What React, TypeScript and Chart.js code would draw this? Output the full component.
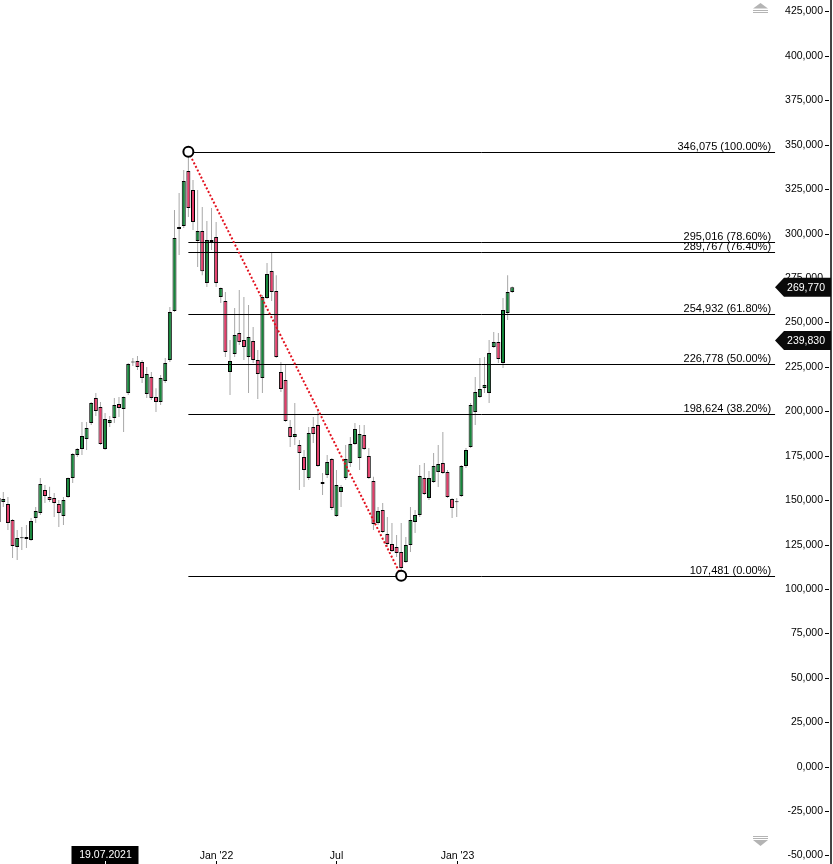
import React, { useEffect, useRef } from "react";
import { Chart, registerables } from "chart.js";

Chart.register(...registerables);

// Weekly candles, first week starting Monday 08.02.2021
const firstWeekUTC = Date.UTC(2021, 1, 8);

const opens = [
  137700, 148900, 147800, 138800, 123600, 128500, 128100, 127600, 139900, 142800,
  155700, 151800, 151200, 147800, 141100, 151800, 162500, 175400, 178800, 184400,
  193400, 207500, 202400, 178800, 193400, 196200, 204100, 201300, 210300, 227400,
  228300, 227700, 209700, 219300, 208000, 205200, 217000, 228900, 256400, 302600,
  304300, 335200, 324500, 295800, 301400, 272200, 295300, 298100, 264300, 262100,
  222100, 232200, 244100, 240100, 230600, 239600, 228900, 218700, 263800, 279000,
  267700, 222100, 217600, 191200, 185500, 181000, 174300, 162500, 191200, 192300,
  159100, 164100, 173100, 141100, 154600, 162500, 170900, 181600, 173700, 186700,
  174800, 160800, 137100, 144400, 130900, 125300, 123600, 120800, 115200, 124700,
  137700, 141600, 162500, 151200, 160200, 165800, 170900, 165800, 150600, 148800,
  152300, 169200, 179900, 199600, 208000, 213100, 210300, 236200, 239000, 227200,
  255300, 267200,
];
const highs = [
  154000, 154600, 151800, 139400, 133200, 134900, 136000, 139900, 146100, 162500,
  158500, 157600, 154000, 150100, 151800, 162700, 176500, 179300, 194000, 194000,
  205200, 210300, 205200, 199000, 197300, 207500, 208000, 208300, 227200, 230000,
  231100, 228900, 224900, 222100, 213000, 220400, 230000, 258700, 313300, 322900,
  335800, 346075, 330200, 324500, 315000, 307100, 314400, 306500, 269600, 267100,
  240100, 258100, 268300, 264300, 259800, 247400, 234500, 265400, 283500, 289600,
  276600, 227700, 226600, 195100, 204700, 183800, 178200, 191200, 196800, 200700,
  165300, 175400, 173700, 167000, 158500, 181000, 185500, 193400, 192300, 192300,
  179300, 163100, 146100, 148400, 140500, 137100, 130400, 137100, 129200, 146100,
  144400, 169800, 170900, 166400, 176500, 181000, 188300, 167000, 151200, 151200,
  169800, 179300, 204700, 219300, 230000, 230600, 240100, 244600, 244100, 263800,
  276600, 270300,
];
const lows = [
  136000, 146100, 133200, 117400, 116300, 121900, 123100, 127000, 137100, 141600,
  148400, 148900, 140500, 134900, 136000, 151200, 159600, 174300, 175400, 178200,
  192300, 197300, 181000, 178200, 191200, 193400, 196800, 188300, 209200, 225500,
  223200, 215900, 207500, 206400, 199600, 203500, 215900, 227700, 255900, 288000,
  303200, 309300, 302000, 281200, 276600, 270000, 290800, 270000, 260900, 230600,
  209200, 230600, 237300, 228900, 210300, 227200, 206900, 210300, 263200, 262100,
  230000, 210900, 194000, 179900, 181000, 155700, 157400, 161300, 182200, 168600,
  152900, 162500, 144400, 140500, 146100, 161300, 168600, 181000, 167000, 178200,
  161900, 133200, 136000, 131500, 123600, 120800, 118000, 107481, 114600, 120800,
  131500, 140500, 152900, 150100, 159600, 157400, 164700, 151200, 139900, 140500,
  151800, 168100, 179300, 192300, 207500, 210300, 204700, 235600, 227200, 224400,
  251400, 266600,
];
const closes = [
  151200, 150600, 137100, 124200, 128700, 128700, 129200, 138300, 143900, 159100,
  152300, 150100, 148400, 142800, 150100, 162500, 176000, 178800, 186100, 190600,
  204700, 200200, 181600, 195700, 195100, 203500, 201900, 208000, 226600, 227700,
  224900, 218700, 221000, 207500, 205200, 218700, 227200, 255900, 297500, 303700,
  329600, 314400, 306500, 301400, 278800, 296400, 296400, 272200, 269400, 233400,
  228300, 242900, 239000, 236200, 241800, 228900, 221000, 264300, 277300, 267100,
  230600, 212500, 194500, 185500, 187200, 176500, 167000, 187800, 187200, 169200,
  160200, 171500, 145600, 158500, 157400, 173100, 181600, 190000, 187200, 178800,
  162500, 136600, 143900, 132100, 125300, 121400, 120200, 111800, 124700, 138800,
  141600, 163600, 153500, 162500, 169200, 170300, 165300, 151800, 145600, 149000,
  169200, 178200, 203500, 210900, 212500, 214800, 232800, 239000, 229400, 257000,
  267100, 269770,
];

// Fibonacci retracement
const fibHighIndex = 41;
const fibLowIndex = 87;
const fibEndIndex = 167.8;
const fibRatios = [1, 0.786, 0.764, 0.618, 0.5, 0.382, 0];
const fibValues = [346075, 295016, 289767, 254932, 226778, 198624, 107481];

// Axes
const yTicks = [
  425000, 400000, 375000, 350000, 325000, 300000, 275000, 250000, 225000, 200000,
  175000, 150000, 125000, 100000, 75000, 50000, 25000, 0, -25000, -50000,
];
const xTickIndex = [47, 73, 99];
const xTickText = ["Jan '22", "Jul", "Jan '23"];
const cursorIndex = 23;
const priceTags = [269770, 239830];

const xMin = 0.287;
const xMax = 179.89;
const yMin = -54784;
const yMax = 431472;

const GREEN = "#15863a";
const RED = "#e63c6a";
const FONT = "'Liberation Sans', Arial, sans-serif";

const fmt = (v: number) => v.toLocaleString("en-US");
const fmtAxis = (v: number) => (v === 0 ? "0,000" : fmt(v));
const pad2 = (n: number) => (n < 10 ? "0" + n : "" + n);
const weekLabel = (i: number) => {
  const d = new Date(firstWeekUTC + i * 7 * 86400000);
  return `${pad2(d.getUTCDate())}.${pad2(d.getUTCMonth() + 1)}.${d.getUTCFullYear()}`;
};

const overlayPlugin = {
  id: "overlay",
  afterDatasetsDraw(chart: any) {
    const { ctx, scales } = chart;
    const x = scales.x;
    const y = scales.y;
    ctx.save();

    // Fibonacci lines and labels
    const fx0 = x.getPixelForValue(fibHighIndex);
    const fx1 = x.getPixelForValue(fibEndIndex);
    ctx.strokeStyle = "#000";
    ctx.lineWidth = 1;
    ctx.fillStyle = "#000";
    ctx.font = `11px ${FONT}`;
    ctx.textAlign = "right";
    ctx.textBaseline = "alphabetic";
    fibValues.forEach((v, k) => {
      const py = Math.round(y.getPixelForValue(v)) + 0.5;
      ctx.beginPath();
      ctx.moveTo(fx0, py);
      ctx.lineTo(fx1, py);
      ctx.stroke();
      ctx.fillText(`${fmt(v)} (${(fibRatios[k] * 100).toFixed(2)}%)`, fx1 - 4, py - 2.5);
    });

    // Dotted trend line between anchors
    const ax = x.getPixelForValue(fibHighIndex);
    const ay = y.getPixelForValue(highs[fibHighIndex]);
    const bx = x.getPixelForValue(fibLowIndex);
    const by = y.getPixelForValue(lows[fibLowIndex]);
    ctx.strokeStyle = "#e3121f";
    ctx.lineWidth = 2;
    ctx.setLineDash([2, 2]);
    ctx.beginPath();
    ctx.moveTo(ax, ay);
    ctx.lineTo(bx, by);
    ctx.stroke();
    ctx.setLineDash([]);

    // Anchor circles
    [[ax, ay], [bx, by]].forEach(([cx, cy]) => {
      ctx.beginPath();
      ctx.arc(cx, cy, 5, 0, Math.PI * 2);
      ctx.fillStyle = "#fff";
      ctx.fill();
      ctx.lineWidth = 2;
      ctx.strokeStyle = "#000";
      ctx.stroke();
    });

    // Right axis line
    ctx.fillStyle = "#444";
    ctx.fillRect(830, 0, 2, 864);

    // Y axis labels and tick marks
    ctx.font = `10.5px ${FONT}`;
    ctx.textAlign = "right";
    ctx.textBaseline = "middle";
    ctx.fillStyle = "#000";
    ctx.strokeStyle = "#000";
    ctx.lineWidth = 1;
    yTicks.forEach((v) => {
      const py = Math.round(y.getPixelForValue(v)) + 0.5;
      ctx.fillText(fmtAxis(v), 823, py);
      ctx.beginPath();
      ctx.moveTo(825, py);
      ctx.lineTo(829, py);
      ctx.stroke();
    });

    // Price tags
    priceTags.forEach((v) => {
      const py = y.getPixelForValue(v);
      ctx.fillStyle = "#0a0a0a";
      ctx.beginPath();
      ctx.moveTo(775, py);
      ctx.lineTo(784, py - 9.5);
      ctx.lineTo(831, py - 9.5);
      ctx.lineTo(831, py + 9.5);
      ctx.lineTo(784, py + 9.5);
      ctx.closePath();
      ctx.fill();
      ctx.fillStyle = "#fff";
      ctx.font = `10.5px ${FONT}`;
      ctx.textAlign = "right";
      ctx.textBaseline = "middle";
      ctx.fillText(fmt(v), 825, py + 0.5);
    });

    // X axis labels
    ctx.font = `10.5px ${FONT}`;
    ctx.textAlign = "center";
    ctx.textBaseline = "middle";
    xTickIndex.forEach((idx, k) => {
      const px = Math.round(x.getPixelForValue(idx)) + 0.5;
      ctx.fillStyle = "#000";
      ctx.fillText(xTickText[k], px, 856);
      ctx.strokeStyle = "#000";
      ctx.beginPath();
      ctx.moveTo(px, 861);
      ctx.lineTo(px, 864);
      ctx.stroke();
    });

    // Cursor date label
    const cxp = Math.round(x.getPixelForValue(cursorIndex)) + 0.5;
    ctx.fillStyle = "#000";
    ctx.fillRect(cxp - 34, 846, 67, 18);
    ctx.fillStyle = "#fff";
    ctx.fillText(weekLabel(cursorIndex), cxp, 855.5);
    ctx.strokeStyle = "#fff";
    ctx.beginPath();
    ctx.moveTo(cxp, 861);
    ctx.lineTo(cxp, 864);
    ctx.stroke();

    // Scroll icons
    ctx.fillStyle = "#b4b4b4";
    ctx.beginPath();
    ctx.moveTo(753, 8.5);
    ctx.lineTo(760.5, 3);
    ctx.lineTo(768, 8.5);
    ctx.closePath();
    ctx.fill();
    ctx.fillRect(753, 10, 15, 1);
    ctx.fillRect(753, 12, 15, 1);

    ctx.fillRect(753, 836, 15, 1);
    ctx.fillRect(753, 838, 15, 1);
    ctx.beginPath();
    ctx.moveTo(753, 840);
    ctx.lineTo(768, 840);
    ctx.lineTo(760.5, 846);
    ctx.closePath();
    ctx.fill();

    ctx.restore();
  },
};

export default function App() {
  const canvasRef = useRef<HTMLCanvasElement | null>(null);

  useEffect(() => {
    document.body.style.margin = "0";
    const canvas = canvasRef.current;
    if (!canvas) return;

    const wickData = opens.map((_, i) => ({ x: i, y: [lows[i], highs[i]] }));
    const bodyData = opens.map((o, i) => ({ x: i, y: [o, closes[i]] }));
    const bodyColors = opens.map((o, i) => (closes[i] >= o ? GREEN : RED));

    const chart = new Chart(canvas, {
      type: "bar",
      data: {
        datasets: [
          {
            label: "wicks",
            data: wickData as any,
            backgroundColor: "#a8a8a8",
            borderWidth: 0,
            barThickness: 1,
            grouped: false,
            inflateAmount: 0,
            order: 2,
          } as any,
          {
            label: "bodies",
            data: bodyData as any,
            backgroundColor: bodyColors,
            borderColor: "#000",
            borderWidth: 1,
            borderSkipped: false,
            barThickness: 4,
            minBarLength: 1,
            grouped: false,
            inflateAmount: 0,
            order: 1,
          } as any,
        ],
      },
      options: {
        animation: false,
        responsive: true,
        maintainAspectRatio: false,
        events: [],
        layout: { padding: { left: 0, right: 2, top: 0, bottom: 0 } },
        plugins: {
          legend: { display: false },
          tooltip: { enabled: false },
        },
        scales: {
          x: {
            type: "linear",
            min: xMin,
            max: xMax,
            offset: false,
            display: false,
          },
          y: {
            type: "linear",
            min: yMin,
            max: yMax,
            display: false,
          },
        },
      },
      plugins: [overlayPlugin],
    });

    return () => chart.destroy();
  }, []);

  return (
    <div
      style={{
        position: "fixed",
        left: 0,
        top: 0,
        width: 833,
        height: 864,
        background: "#fff",
      }}
    >
      <canvas ref={canvasRef} />
    </div>
  );
}
